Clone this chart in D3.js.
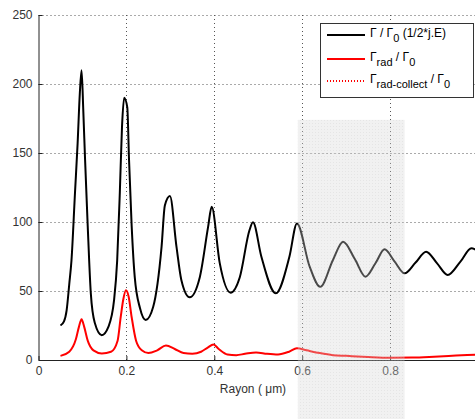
<!DOCTYPE html>
<html>
<head>
<meta charset="utf-8">
<script src="https://cdn.jsdelivr.net/npm/d3@7"></script>
<style>
  html, body { margin: 0; padding: 0; background: #fff; }
  svg { display: block; font-family: "Liberation Sans", Arial, Helvetica, sans-serif; }
</style>
</head>
<body>
<div id="chart"></div>
<script>
// ---------- data ----------
const rayonTotal = [0.05, 0.058, 0.064, 0.07, 0.075, 0.083, 0.089, 0.094, 0.098, 0.102, 0.106, 0.112, 0.119, 0.128, 0.144, 0.159, 0.172, 0.179, 0.185, 0.19, 0.195, 0.202, 0.206, 0.212, 0.219, 0.231, 0.244, 0.261, 0.28, 0.2875, 0.299, 0.314, 0.325, 0.344, 0.367, 0.386, 0.394, 0.4125, 0.437, 0.458, 0.48, 0.488, 0.507, 0.54, 0.571, 0.588, 0.617, 0.641, 0.67, 0.693, 0.72, 0.744, 0.767, 0.7875, 0.81, 0.833, 0.858, 0.882, 0.907, 0.931, 0.96, 0.985, 1.0];
const gammaTotal = [25, 28, 36, 55, 72, 121, 157, 193, 210, 180, 145, 97, 48.5, 27, 18, 24, 43.5, 72, 121, 169, 190, 183, 145, 97, 60, 37.5, 29, 38.6, 82, 112, 118.8, 82, 58, 45.4, 60, 96.6, 111, 70, 48.8, 60, 94, 99.8, 75, 48.3, 75, 99, 67.6, 53, 72.5, 85.7, 73, 60.4, 70.3, 80.2, 71.5, 62.8, 70.6, 78.5, 70, 61.6, 71.3, 81, 79];

const rayonRad = [0.05, 0.07, 0.085, 0.092, 0.098, 0.104, 0.112, 0.125, 0.144, 0.165, 0.18, 0.187, 0.193, 0.199, 0.205, 0.212, 0.222, 0.235, 0.25, 0.27, 0.29, 0.31, 0.33, 0.35, 0.37, 0.385, 0.398, 0.41, 0.43, 0.45, 0.47, 0.495, 0.52, 0.545, 0.57, 0.588, 0.61, 0.64, 0.67, 0.7, 0.75, 0.8, 0.85, 0.9, 0.95, 1.0];
const gammaRad = [3, 6, 15, 24, 29.5, 24, 14, 7, 4.8, 6, 14, 31, 44, 50.5, 46, 31, 14, 7, 5, 7, 10.5, 8, 5, 4.5, 6, 9, 11.3, 8, 4, 3.5, 4.5, 5.5, 4.5, 4, 6, 8.5, 7, 5, 3.5, 3, 2.2, 1.7, 1.8, 2.4, 3.2, 4];

const xTicks = [0, 0.2, 0.4, 0.6, 0.8, 1];
const yTicks = [0, 50, 100, 150, 200, 250];
const xTickLabels = ["0", "0.2", "0.4", "0.6", "0.8", "1"];
const shadeRange = [0.59, 0.833];
const shadeTop = 174;
const xLabel = "Rayon ( \u03bcm)";

// ---------- layout ----------
const W = 475, H = 419;
const svg = d3.select("#chart").append("svg").attr("width", W).attr("height", H);

const x = d3.scaleLinear().domain([0, 1]).range([38.5, 478]);
const y = d3.scaleLinear().domain([0, 250]).range([360, 15]);

// grid
const grid = svg.append("g").attr("stroke", "#555").attr("stroke-width", 1).attr("stroke-dasharray", "1,3");
grid.selectAll("line.h").data(yTicks.filter(d => d > 0)).join("line")
  .attr("x1", x(0)).attr("x2", x(1)).attr("y1", d => Math.round(y(d)) + 0.5).attr("y2", d => Math.round(y(d)) + 0.5);
grid.selectAll("line.v").data(xTicks.filter(d => d > 0)).join("line")
  .attr("y1", y(0)).attr("y2", y(250)).attr("x1", d => Math.round(x(d)) + 0.5).attr("x2", d => Math.round(x(d)) + 0.5);

// axes
const xAxis = d3.axisBottom(x).tickValues(xTicks).tickFormat((d, i) => xTickLabels[i]).tickSizeInner(-4).tickSizeOuter(0).tickPadding(6);
const yAxis = d3.axisLeft(y).tickValues(yTicks).tickSizeInner(-4).tickSizeOuter(0).tickPadding(6);

const gx = svg.append("g").attr("transform", `translate(0,${y(0)})`).call(xAxis);
const gy = svg.append("g").attr("transform", `translate(${x(0)},0)`).call(yAxis);
[gx, gy].forEach(g => {
  g.select(".domain").attr("stroke", "#222");
  g.selectAll(".tick line").attr("stroke", "#222");
  g.selectAll(".tick text").attr("fill", "#333").attr("font-size", 12).attr("font-family", "Liberation Sans, Arial, sans-serif");
});

svg.append("text").attr("x", 253).attr("y", 393).attr("text-anchor", "middle")
  .attr("font-size", 12).attr("fill", "#333").text(xLabel);

// lines
const lineTotal = d3.line().x((d, i) => x(rayonTotal[i])).y(d => y(d)).curve(d3.curveMonotoneX);
const lineRad = d3.line().x((d, i) => x(rayonRad[i])).y(d => y(d)).curve(d3.curveMonotoneX);

svg.append("path").datum(gammaTotal).attr("d", lineTotal)
  .attr("fill", "none").attr("stroke", "#000").attr("stroke-width", 2).attr("stroke-linejoin", "round");
svg.append("path").datum(gammaRad).attr("d", lineRad)
  .attr("fill", "none").attr("stroke", "#ff0000").attr("stroke-width", 2).attr("stroke-linejoin", "round");

// shaded region (on top)
const defs = svg.append("defs");
const pat = defs.append("pattern").attr("id", "dots").attr("width", 3).attr("height", 3).attr("patternUnits", "userSpaceOnUse");
pat.append("rect").attr("width", 3).attr("height", 3).attr("fill", "#d6d6d6");
pat.append("rect").attr("width", 1).attr("height", 1).attr("fill", "#b4b4b4");
svg.append("rect")
  .attr("x", x(shadeRange[0])).attr("width", x(shadeRange[1]) - x(shadeRange[0]))
  .attr("y", y(shadeTop)).attr("height", H - y(shadeTop))
  .attr("fill", "url(#dots)").attr("opacity", 0.35);

// legend
const leg = svg.append("g");
leg.append("rect").attr("x", 320.5).attr("y", 23.5).attr("width", 153).attr("height", 74)
  .attr("fill", "#fff").attr("stroke", "#333").attr("stroke-width", 1);
const entries = [
  { y: 35, color: "#000", dash: null, parts: [["\u0393 / \u0393", 0], ["0", 1], [" (1/2*j.E)", 0]] },
  { y: 59, color: "#ff0000", dash: null, parts: [["\u0393", 0], ["rad", 1], [" / \u0393", 0], ["0", 1]] },
  { y: 81, color: "#ff0000", dash: "1,2", parts: [["\u0393", 0], ["rad-collect", 1], [" / \u0393", 0], ["0", 1]] }
];
entries.forEach(e => {
  leg.append("line").attr("x1", 327).attr("x2", 365).attr("y1", e.y).attr("y2", e.y)
    .attr("stroke", e.color).attr("stroke-width", 2).attr("stroke-dasharray", e.dash);
  const t = leg.append("text").attr("x", 370).attr("y", e.y + 2).attr("font-size", 12).attr("fill", "#000");
  let sub = 0;
  e.parts.forEach(([s, isSub]) => {
    const dy = isSub && !sub ? 5 : (!isSub && sub ? -5 : 0);
    t.append("tspan").attr("dy", dy).attr("font-size", isSub ? 11 : 12).text(s);
    sub = isSub;
  });
});
</script>
</body>
</html>
